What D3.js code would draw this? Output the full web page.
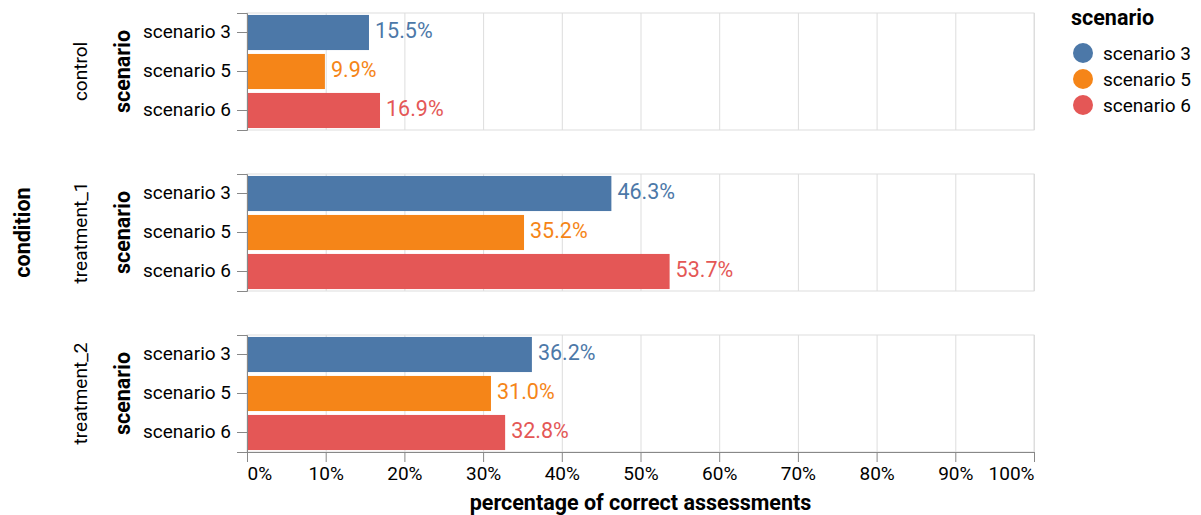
<!DOCTYPE html>
<html lang="en">
<head>
  <meta charset="utf-8">
  <title>Correct assessments</title>
  <script src="https://d3js.org/d3.v7.min.js"></script>
  <style>
    body { margin: 0; background: white; }
    svg text { font-family: Roboto, sans-serif; }
    .grid line { stroke: #ddd; }
    .grid path { display: none; }
  </style>
</head>
<body>
<div id="chart"></div>
<script>
  var conditions = ['control', 'treatment_1', 'treatment_2'];
  var scenarios = ['scenario 3', 'scenario 5', 'scenario 6'];
  var colors = ['#4c78a8', '#f58518', '#e45756'];
  // percentage per scenario, one array per condition
  var control = [15.5, 9.9, 16.9];
  var treatment1 = [46.3, 35.2, 53.7];
  var treatment2 = [36.2, 31.0, 32.8];
  var xTicks = [0, 10, 20, 30, 40, 50, 60, 70, 80, 90, 100];

  var values = [control, treatment1, treatment2];
  var data = [];
  conditions.forEach(function (c, i) {
    scenarios.forEach(function (s, j) {
      data.push({ condition: c, scenario: s, pct: values[i][j] });
    });
  });

  var plotLeft = 247, plotTop = 13, width = 787, panelH = 117, panelStep = 161;
  var labelSize = '19px', titleSize = '21.5px';

  var svg = d3.select('#chart').append('svg')
    .attr('width', 1201).attr('height', 515);

  var x = d3.scaleLinear().domain([0, 100]).range([0, width]);
  var y = d3.scaleBand().domain(scenarios).range([0, panelH])
    .paddingInner(0.1).paddingOuter(0.05);
  var color = d3.scaleOrdinal().domain(scenarios).range(colors);
  var row = d3.scaleOrdinal().domain(conditions)
    .range(conditions.map(function (c, i) { return plotTop + i * panelStep; }));

  conditions.forEach(function (c) {
    var g = svg.append('g').attr('transform', 'translate(' + plotLeft + ',' + row(c) + ')');

    // view frame + grid
    g.append('rect').attr('width', width).attr('height', panelH)
      .attr('fill', 'none').attr('stroke', '#ddd');
    g.append('g').attr('class', 'grid')
      .call(d3.axisBottom(x).tickValues(xTicks).tickSize(panelH).tickFormat(''));

    var rows = data.filter(function (d) { return d.condition === c; });

    g.selectAll('rect.bar').data(rows).enter().append('rect')
      .attr('class', 'bar')
      .attr('x', 0)
      .attr('y', function (d) { return y(d.scenario); })
      .attr('width', function (d) { return x(d.pct); })
      .attr('height', y.bandwidth())
      .attr('fill', function (d) { return color(d.scenario); });

    g.selectAll('text.val').data(rows).enter().append('text')
      .attr('class', 'val')
      .attr('x', function (d) { return x(d.pct) + 6; })
      .attr('y', function (d) { return y(d.scenario) + y.bandwidth() / 2; })
      .attr('dy', '0.27em')
      .style('font-size', titleSize)
      .attr('fill', function (d) { return color(d.scenario); })
      .text(function (d) { return d.pct.toFixed(1) + '%'; });

    var ya = g.append('g').call(d3.axisLeft(y).tickSize(10).tickPadding(6));
    ya.select('.domain').attr('stroke', '#888').attr('stroke-width', 1);
    ya.selectAll('.tick line').attr('stroke', '#888');
    ya.selectAll('.tick text').style('font-size', labelSize).attr('fill', '#000')
      .attr('dy', '0.28em');

    g.append('text')
      .attr('transform', 'translate(-125,' + panelH / 2 + ') rotate(-90)')
      .attr('text-anchor', 'middle')
      .attr('dy', '0.35em')
      .style('font-size', titleSize).style('font-weight', 'bold')
      .text('scenario');

    g.append('text')
      .attr('transform', 'translate(-167,' + panelH / 2 + ') rotate(-90)')
      .attr('text-anchor', 'middle')
      .attr('dy', '0.35em')
      .style('font-size', labelSize)
      .text(c);
  });

  // x axis under the last panel
  var xa = svg.append('g')
    .attr('transform', 'translate(' + plotLeft + ',' + (row(conditions[2]) + panelH) + ')')
    .call(d3.axisBottom(x).tickValues(xTicks).tickSize(10).tickPadding(5)
      .tickFormat(function (d) { return d + '%'; }));
  xa.select('.domain').attr('stroke', '#888');
  xa.selectAll('.tick line').attr('stroke', '#888');
  xa.selectAll('.tick text').style('font-size', labelSize).attr('fill', '#000');
  xa.selectAll('.tick text').filter(function (d, i) { return i === 0; }).attr('text-anchor', 'start');
  xa.selectAll('.tick text').filter(function (d, i) { return i === xTicks.length - 1; }).attr('text-anchor', 'end');

  svg.append('text')
    .attr('x', plotLeft + width / 2).attr('y', 510)
    .attr('text-anchor', 'middle')
    .style('font-size', titleSize).style('font-weight', 'bold')
    .text('percentage of correct assessments');

  svg.append('text')
    .attr('transform', 'translate(22,' + (row(conditions[1]) + panelH / 2) + ') rotate(-90)')
    .attr('text-anchor', 'middle')
    .attr('dy', '0.35em')
    .style('font-size', titleSize).style('font-weight', 'bold')
    .text('condition');

  // legend
  var legend = svg.append('g').attr('transform', 'translate(1071,0)');
  legend.append('text').attr('x', 0).attr('y', 25)
    .style('font-size', titleSize).style('font-weight', 'bold').text('scenario');
  var li = legend.selectAll('g.item').data(scenarios).enter().append('g')
    .attr('class', 'item')
    .attr('transform', function (d, i) { return 'translate(0,' + (53 + i * 26) + ')'; });
  li.append('circle').attr('cx', 12).attr('cy', 0).attr('r', 10)
    .attr('fill', function (d) { return color(d); });
  li.append('text').attr('x', 32).attr('dy', '0.35em')
    .style('font-size', labelSize).text(function (d) { return d; });
</script>
</body>
</html>
